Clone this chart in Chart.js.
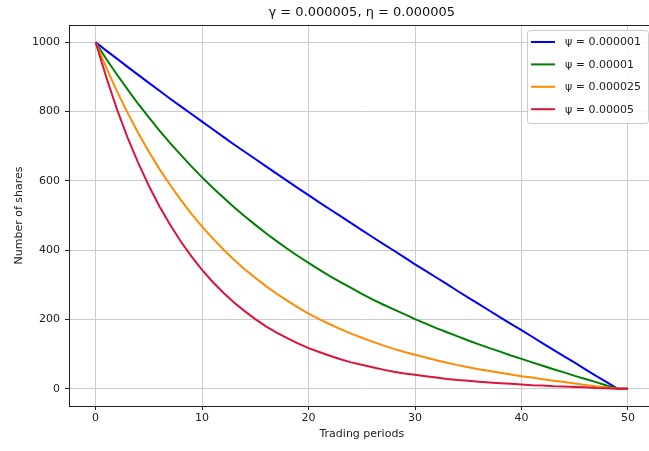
<!DOCTYPE html>
<html>
<head>
<meta charset="utf-8">
<script src="https://cdn.jsdelivr.net/npm/chart.js@4.4.1/dist/chart.umd.min.js"></script>
<style>
  html, body { margin: 0; padding: 0; background: #fff; overflow: hidden; }
  #wrap { position: relative; width: 660px; height: 451px; }
</style>
</head>
<body>
<div id="wrap"><canvas id="chart"></canvas></div>
<script>
// trading periods 0..50
const periods = [0, 1, 2, 3, 4, 5, 6, 7, 8, 9, 10, 11, 12, 13, 14, 15, 16, 17, 18, 19, 20,
  21, 22, 23, 24, 25, 26, 27, 28, 29, 30, 31, 32, 33, 34, 35, 36, 37, 38, 39, 40,
  41, 42, 43, 44, 45, 46, 47, 48, 49, 50];

const seriesLabels = ['ψ = 0.000001', 'ψ = 0.00001', 'ψ = 0.000025', 'ψ = 0.00005'];
const seriesColors = ['#0000ff', '#008000', '#ff8c00', '#dc143c'];

// remaining shares per period
const sharesPsi1 = [1000, 976, 953, 929, 906, 883, 860, 837, 815, 793, 771, 749, 727, 705, 684, 663, 642,
  621, 600, 579, 559, 538, 518, 498, 478, 458, 438, 418, 399, 379, 359, 340, 321, 302, 282, 263,
  244, 225, 206, 187, 169, 150, 131, 112, 93, 75, 56, 37, 19, 0, 0];
const sharesPsi2 = [1000, 952, 907, 864, 822, 783, 745, 709, 675, 642, 610, 580, 552, 524, 498, 473, 449,
  426, 404, 383, 363, 344, 325, 308, 291, 274, 258, 243, 229, 215, 201, 188, 175, 163, 151, 139,
  128, 117, 107, 96, 86, 76, 66, 56, 47, 37, 28, 19, 9, 0, 0];
const sharesPsi3 = [1000, 927, 859, 797, 738, 684, 634, 588, 545, 505, 468, 434, 402, 372, 345, 320, 296,
  274, 254, 235, 217, 201, 186, 172, 159, 147, 136, 125, 115, 106, 98, 90, 82, 75, 68, 62,
  56, 51, 46, 41, 36, 32, 27, 23, 19, 15, 11, 7, 4, 0, 0];
const sharesPsi4 = [1000, 899, 807, 725, 652, 586, 526, 473, 425, 382, 343, 308, 277, 249, 224, 201, 180,
  162, 146, 131, 117, 106, 95, 85, 76, 69, 62, 55, 49, 44, 40, 36, 32, 28, 25, 23,
  20, 18, 16, 14, 12, 10, 9, 7, 6, 5, 4, 2, 1, 0, 0];

const xTicks = [0, 10, 20, 30, 40, 50];
const yTicks = [0, 200, 400, 600, 800, 1000];

const FONT = "'DejaVu Sans', sans-serif";
const allShares = [sharesPsi1, sharesPsi2, sharesPsi3, sharesPsi4];

const datasets = allShares.map((vals, i) => ({
  label: seriesLabels[i],
  data: periods.map((p, j) => ({ x: p, y: vals[j] })),
  borderColor: seriesColors[i],
  backgroundColor: seriesColors[i],
  borderWidth: 2,
  pointRadius: 0,
  tension: 0,
  fill: false,
  order: 3 - i   // last series drawn on top, like matplotlib
}));

// top spine + matplotlib style legend box
const framePlugin = {
  id: 'frame',
  afterDraw(chart) {
    const { ctx, chartArea: a } = chart;
    ctx.save();
    ctx.strokeStyle = '#222';
    ctx.lineWidth = 1;
    ctx.beginPath();
    ctx.moveTo(a.left, a.top + 0.5);
    ctx.lineTo(a.right, a.top + 0.5);
    ctx.moveTo(a.right - 0.5, a.top);
    ctx.lineTo(a.right - 0.5, a.bottom);
    ctx.stroke();

    // legend
    const w = 121, h = 93;
    const x0 = a.right - 6.6 - w, y0 = a.top + 5;
    ctx.fillStyle = 'rgba(255,255,255,0.85)';
    ctx.strokeStyle = '#cccccc';
    ctx.beginPath();
    ctx.roundRect(x0 + 0.5, y0 + 0.5, w, h, 3);
    ctx.fill();
    ctx.stroke();
    ctx.font = '11px ' + FONT;
    ctx.textBaseline = 'middle';
    ctx.textAlign = 'left';
    chart.data.datasets.forEach((ds, i) => {
      const yy = y0 + 12 + i * 22.4;
      ctx.strokeStyle = ds.borderColor;
      ctx.lineWidth = 2;
      ctx.beginPath();
      ctx.moveTo(x0 + 4, yy);
      ctx.lineTo(x0 + 28, yy);
      ctx.stroke();
      ctx.fillStyle = '#222';
      ctx.fillText(ds.label, x0 + 38, yy + 0.5);
    });
    ctx.restore();
  }
};

new Chart(document.getElementById('chart').getContext('2d'), {
  type: 'line',
  data: { datasets: datasets },
  options: {
    responsive: true,
    maintainAspectRatio: false,
    animation: false,
    layout: { padding: { left: 0, right: 5.4, top: 0, bottom: 0 } },
    plugins: {
      legend: { display: false },
      tooltip: { enabled: false },
      title: {
        display: true,
        fullSize: false,
        text: 'γ = 0.000005, η = 0.000005',
        color: '#111',
        font: { family: FONT, size: 13, weight: 'normal' },
        padding: { top: 5, bottom: 4.4 }
      }
    },
    scales: {
      x: {
        type: 'linear',
        min: -2.5,
        max: 52.5,
        afterBuildTicks: (scale) => { scale.ticks = xTicks.map(v => ({ value: v })); },
        afterFit: (scale) => { scale.height = 45; },
        grid: { color: '#cccccc', lineWidth: 1, tickLength: 4, tickColor: '#222' },
        border: { display: true, color: '#222', width: 1 },
        ticks: { color: '#222', font: { family: FONT, size: 11 }, padding: 2, maxRotation: 0,
                 callback: (v) => String(v) },
        title: { display: true, text: 'Trading periods', color: '#222',
                 font: { family: FONT, size: 11 }, padding: { top: 0, bottom: 10 } }
      },
      y: {
        type: 'linear',
        min: -50,
        max: 1050,
        afterBuildTicks: (scale) => { scale.ticks = yTicks.map(v => ({ value: v })); },
        afterFit: (scale) => { scale.width = 69; },
        grid: { color: '#cccccc', lineWidth: 1, tickLength: 4, tickColor: '#222' },
        border: { display: true, color: '#222', width: 1 },
        ticks: { color: '#222', font: { family: FONT, size: 11 }, padding: 5,
                 callback: (v) => String(v) },
        title: { display: true, text: 'Number of shares', color: '#222',
                 font: { family: FONT, size: 11 }, padding: { top: 13, bottom: 0 } }
      }
    }
  },
  plugins: [framePlugin]
});
</script>
</body>
</html>
